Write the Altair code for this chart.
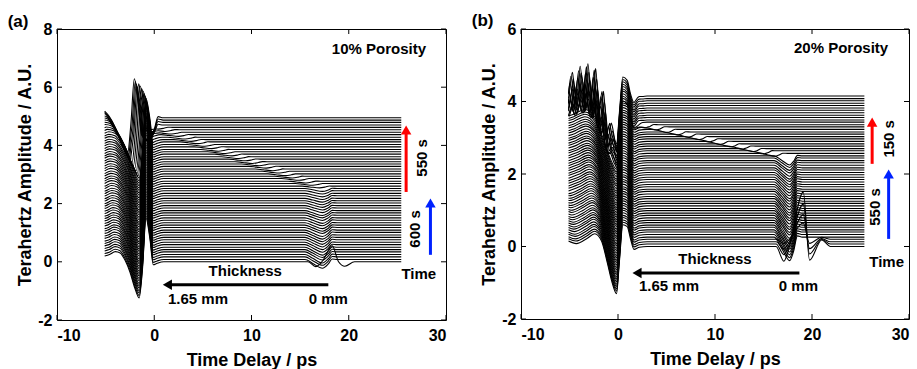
import altair as alt
import numpy as np
import pandas as pd

FONT = "Liberation Sans"

# ---------------- Panel (a): 10% porosity ----------------
A_OFFSET = [0.00, 0.08, 0.17, 0.25, 0.34, 0.42, 0.50, 0.59, 0.67, 0.76,
            0.84, 0.92, 1.01, 1.09, 1.18, 1.26, 1.34, 1.43, 1.51, 1.60,
            1.68, 1.76, 1.85, 1.93, 2.02, 2.10, 2.18, 2.27, 2.35, 2.44,
            2.52, 2.60, 2.69, 2.77, 2.86, 2.94, 3.02, 3.11, 3.19, 3.28,
            3.36, 3.44, 3.53, 3.61, 3.70, 3.78, 3.86, 3.95, 4.03, 4.12,
            4.20, 4.28, 4.37, 4.45, 4.54, 4.62, 4.70, 4.79, 4.87, 4.95]
A_STRETCH = [1.00, 1.01, 1.01, 1.02, 1.02, 1.03, 1.03, 1.04, 1.05, 1.05,
             1.06, 1.06, 1.07, 1.08, 1.08, 1.09, 1.09, 1.10, 1.10, 1.11,
             1.12, 1.12, 1.13, 1.13, 1.14, 1.15, 1.15, 1.16, 1.16, 1.17,
             1.17, 1.18, 1.19, 1.19, 1.20, 1.20, 1.21, 1.22, 1.22, 1.23,
             1.23, 1.24, 1.24, 1.25, 1.26, 1.26, 1.27, 1.27, 1.28, 1.28,
             1.29, 1.30, 1.30, 1.30, 1.30, 1.30, 1.30, 1.30, 1.30, 1.30]
A_SHIFT = [0.0] * 50 + [-0.10, -0.20, -0.30, -0.45, -0.60, -0.75, -0.90, -1.00, -1.10, -1.20]
A_ECHO_POS = ([18.3] + [17.3] * 30 +
              [17.0, 16.3, 15.6, 14.9, 14.2, 13.5, 12.9, 12.2, 11.5, 10.8,
               10.1, 9.4, 8.7, 8.0, 7.3, 6.6, 5.9, 5.2, 4.5, 3.8,
               3.2, 2.5, 1.8, 1.1, 0.4] + [-0.6] * 4)
A_ECHO_DEPTH = ([0.0] +
                [0.30, 0.29, 0.29, 0.28, 0.27, 0.27, 0.26, 0.25, 0.25, 0.24,
                 0.23, 0.23, 0.22, 0.21, 0.21, 0.20, 0.19, 0.19, 0.18, 0.17,
                 0.17, 0.16, 0.15, 0.15, 0.14, 0.13, 0.13, 0.12, 0.11, 0.10] +
                [0.06] * 25 + [0.5, 0.6, 0.7, 0.8])
A_SPIKE = [0.55] + [0.0] * 59

A_PULSE_T = [-7.0, -5.3, -4.6, -4.0, -3.5, -3.0, -2.5, -2.0, -1.55, -1.2, -0.85, -0.45, -0.1, 0.3, 1.0]
A_PULSE_V = [0.15, 0.18, 0.25, 0.35, 0.30, 0.05, -0.35, -0.90, -1.24, -0.20, 1.50, 0.80, -0.10, -0.05, 0.0]
A_TROUGH = -1.55
A_DIP_T = [-1.8, -1.0, 0.0, 0.6, 1.0, 1.5]
A_DIP_V = [0.0, -0.45, -1.0, -0.5, 0.05, 0.0]
A_SPIKE_C = 18.3
A_SPIKE_T = [-2.5, -1.7, -1.0, 0.0, 0.65, 1.3, 2.3]
A_SPIKE_V = [0.0, -0.30, 0.05, 1.0, 0.0, -0.28, 0.0]

# ---------------- Panel (b): 20% porosity ----------------
B_OFFSET = [0.00, 0.07, 0.13, 0.20, 0.26, 0.33, 0.40, 0.46, 0.53, 0.59,
            0.66, 0.72, 0.79, 0.86, 0.92, 0.99, 1.05, 1.12, 1.19, 1.25,
            1.32, 1.38, 1.45, 1.52, 1.58, 1.65, 1.71, 1.78, 1.85, 1.91,
            1.98, 2.04, 2.11, 2.17, 2.24, 2.31, 2.37, 2.44, 2.50, 2.57,
            2.64, 2.70, 2.77, 2.83, 2.90, 2.97, 3.03, 3.10, 3.16, 3.23,
            3.30, 3.36, 3.43, 3.49, 3.56, 3.62, 3.69, 3.76, 3.82, 3.89,
            3.95, 4.02, 4.08, 4.15]
B_STRETCH = ([1.00, 1.01, 1.02, 1.03, 1.04, 1.05, 1.06, 1.06, 1.07, 1.08,
              1.09, 1.10, 1.11, 1.12, 1.13, 1.14, 1.15, 1.16, 1.17, 1.17,
              1.18, 1.19, 1.20, 1.21, 1.22, 1.23, 1.24, 1.25, 1.26, 1.27,
              1.28, 1.29, 1.29, 1.30, 1.31, 1.32, 1.33, 1.34, 1.35, 1.36,
              1.37, 1.38, 1.39, 1.39, 1.40, 1.41, 1.42, 1.43, 1.44, 1.45] + [1.45] * 14)
B_SHIFT = [0.0] * 64
B_ECHO_POS = ([19.1] * 4 + [17.7] * 35 +
              [16.2, 15.1, 14.0, 12.9, 11.7, 10.6, 9.5, 8.4, 7.3, 6.2, 5.1, 4.0, 2.9, 1.75] +
              [1.3] * 11)
B_ECHO_DEPTH = ([0.0] * 4 +
                [0.65, 0.64, 0.63, 0.61, 0.60, 0.59, 0.58, 0.57, 0.56, 0.54,
                 0.53, 0.52, 0.51, 0.50, 0.48, 0.47, 0.46, 0.45, 0.44, 0.43,
                 0.41, 0.40, 0.39, 0.38, 0.37, 0.35, 0.34, 0.33, 0.32, 0.31,
                 0.30, 0.28, 0.27, 0.26, 0.25] +
                [0.08] * 14 + [0.15] * 11)
B_SPIKE = [1.5, 1.1, 0.75, 0.45] + [0.0] * 60
B_RING_AMP = [0.0] * 53 + [0.40, 0.55, 0.70, 0.80, 0.90, 1.00, 1.10, 1.20, 1.30, 1.40, 1.50]
B_RING_SHIFT = [0.0] * 53 + [0.0, 0.15, -0.10, 0.25, -0.20, 0.10, 0.30, -0.15, 0.20, -0.05, 0.10]

B_PULSE_T = [-7.0, -5.1, -4.3, -3.2, -2.4, -1.7, -1.1, -0.6, -0.15, 0.15, 0.5, 0.95, 1.3, 1.65, 2.2, 3.0]
B_PULSE_V = [0.15, 0.15, 0.08, 0.22, 0.35, 0.15, -0.45, -1.00, -1.30, -0.40, 0.60, 0.55, 0.20, -0.08, -0.02, 0.0]
B_TROUGH = -0.15
B_DIP_T = [-1.6, -0.8, 0.0, 0.4, 0.8, 1.3]
B_DIP_V = [0.0, -0.5, -1.0, -0.6, 0.05, 0.0]
B_SPIKE_C = 19.1
B_SPIKE_T = [-2.8, -2.0, -1.5, 0.0, 0.65, 1.9, 2.8]
B_SPIKE_V = [0.0, -0.27, -0.05, 1.0, -0.25, 0.12, 0.0]
RING_T = [-7.0, -6.0, -5.6, -5.2, -4.8, -4.4, -4.0, -3.6, -3.2, -2.8, -2.4, -2.0, -1.6, -1.2, -0.8, -0.4]
RING_V = [0.0, 0.0, 0.25, -0.25, 0.30, -0.30, 0.35, -0.35, 0.40, -0.40, 0.45, -0.40, 0.40, -0.30, 0.20, 0.0]

T_START = -5.1
T_END = 25.4


def build(offsets, stretch, shift, echo_pos, echo_depth, spike, pulse_t, pulse_v, trough,
          dip_t, dip_v, spike_c, spike_t, spike_v, ring_amp=None, ring_shift=None):
    rows = []
    pt = np.array(pulse_t, dtype=float)
    for i, o in enumerate(offsets):
        ptx = np.where(pt < trough, trough + (pt - trough) * stretch[i], pt) + shift[i]
        knots = set(ptx.tolist()) | {T_START, T_END}
        if echo_depth[i] > 0:
            knots |= set((np.array(dip_t) + echo_pos[i]).tolist())
        if spike[i] > 0:
            knots |= set((np.array(spike_t) + spike_c).tolist())
        ra = ring_amp[i] if ring_amp is not None else 0.0
        if ra > 0:
            knots |= set((np.array(RING_T) + ring_shift[i]).tolist())
        ks = np.array(sorted(k for k in knots if T_START <= k <= T_END))
        v = o + np.interp(ks, ptx, pulse_v)
        if echo_depth[i] > 0:
            v = v + echo_depth[i] * np.interp(ks - echo_pos[i], dip_t, dip_v)
        if spike[i] > 0:
            v = v + spike[i] * np.interp(ks - spike_c, spike_t, spike_v)
        if ra > 0:
            v = v + ra * np.interp(ks - ring_shift[i], RING_T, RING_V)
        for j, (t, y) in enumerate(zip(ks, v)):
            rows.append({"trace": i, "k": j, "t": float(t), "v": float(y)})
    return pd.DataFrame(rows)


df_a = build(A_OFFSET, A_STRETCH, A_SHIFT, A_ECHO_POS, A_ECHO_DEPTH, A_SPIKE,
             A_PULSE_T, A_PULSE_V, A_TROUGH, A_DIP_T, A_DIP_V, A_SPIKE_C, A_SPIKE_T, A_SPIKE_V)
df_b = build(B_OFFSET, B_STRETCH, B_SHIFT, B_ECHO_POS, B_ECHO_DEPTH, B_SPIKE,
             B_PULSE_T, B_PULSE_V, B_TROUGH, B_DIP_T, B_DIP_V, B_SPIKE_C, B_SPIKE_T, B_SPIKE_V,
             B_RING_AMP, B_RING_SHIFT)

X_TICKS = [-10, 0, 10, 20, 30]
A_Y_TICKS = [-2, 0, 2, 4, 6, 8]
B_Y_TICKS = [-2, 0, 2, 4, 6]

W_A, H_A = 389, 291
W_B, H_B = 388, 290


def panel(df, ydom, yticks, W, H, notes, rnotes, arrows_h, arrows_v):
    xs = alt.Scale(domain=[-10, 30], nice=False, zero=False)
    ys = alt.Scale(domain=ydom, nice=False, zero=False)
    xax = alt.Axis(values=X_TICKS, title="Time Delay / ps", labelExpr="'' + datum.value")
    yax = alt.Axis(values=yticks, title="Terahertz Amplitude / A.U.", labelExpr="'' + datum.value")
    X = alt.X("t:Q", scale=xs, axis=xax)
    Y = alt.Y("v:Q", scale=ys, axis=yax)

    lines = alt.Chart(df).mark_line(color="black", strokeWidth=1.1, interpolate="monotone").encode(
        x=X, y=Y, detail="trace:N", order="k:Q")
    xt = pd.DataFrame({"t": X_TICKS})
    yt = pd.DataFrame({"v": yticks})
    tb = alt.Chart(xt).mark_rule(color="black", strokeWidth=1).encode(
        x=X, y=alt.value(H), y2=alt.value(H - 5))
    tt = alt.Chart(xt).mark_rule(color="black", strokeWidth=1).encode(
        x=X, y=alt.value(0), y2=alt.value(5))
    tl = alt.Chart(yt).mark_rule(color="black", strokeWidth=1).encode(
        y=Y, x=alt.value(0), x2=alt.value(5))
    tr = alt.Chart(yt).mark_rule(color="black", strokeWidth=1).encode(
        y=Y, x=alt.value(W), x2=alt.value(W - 5))

    nd = pd.DataFrame(notes, columns=["t", "v", "label", "size"])
    txt = alt.Chart(nd).mark_text(font=FONT, fontWeight="bold", color="black",
                                  align="center", baseline="middle").encode(
        x=X, y=Y, text="label:N", size=alt.Size("size:Q", scale=None, legend=None))
    rd = pd.DataFrame(rnotes, columns=["t", "v", "label"])
    rtxt = alt.Chart(rd).mark_text(font=FONT, fontWeight="bold", color="black", fontSize=15,
                                   align="center", baseline="middle", angle=270).encode(
        x=X, y=Y, text="label:N")

    ah = pd.DataFrame(arrows_h, columns=["t", "t2", "v", "col"])
    shaft_h = alt.Chart(ah).mark_rule(strokeWidth=3).encode(
        x=X, x2="t2:Q", y=Y, color=alt.Color("col:N", scale=None, legend=None))
    head_h = alt.Chart(ah).mark_point(shape="triangle-left", filled=True, size=110, opacity=1).encode(
        x=X, y=Y, color=alt.Color("col:N", scale=None, legend=None))
    av = pd.DataFrame(arrows_v, columns=["t", "v", "v2", "col"])
    shaft_v = alt.Chart(av).mark_rule(strokeWidth=3).encode(
        x=X, y=Y, y2="v2:Q", color=alt.Color("col:N", scale=None, legend=None))
    head_v = alt.Chart(av).mark_point(shape="triangle-up", filled=True, size=110, opacity=1).encode(
        x=X, y=alt.Y("v2:Q", scale=ys, axis=yax), color=alt.Color("col:N", scale=None, legend=None))

    return alt.layer(lines, tb, tt, tl, tr, shaft_h, head_h, shaft_v, head_v, txt, rtxt).properties(
        width=W, height=H)


notes_a = [
    [-14.0, 8.25, "(a)", 17],
    [23.1, 7.32, "10% Porosity", 15],
    [9.36, -0.31, "Thickness", 15],
    [4.5, -1.28, "1.65 mm", 15],
    [17.9, -1.28, "0 mm", 15],
    [27.2, -0.42, "Time", 15],
]
rnotes_a = [[27.5, 3.57, "550 s"], [26.8, 1.13, "600 s"]]
arrows_h_a = [[1.35, 17.9, -0.79, "black"]]
arrows_v_a = [[25.9, 2.40, 4.53, "#ff0000"], [28.4, 0.24, 2.02, "#0022ff"]]

notes_b = [
    [-13.95, 6.23, "(b)", 17],
    [23.0, 5.48, "20% Porosity", 15],
    [10.0, -0.34, "Thickness", 15],
    [5.26, -1.09, "1.65 mm", 15],
    [18.6, -1.09, "0 mm", 15],
    [27.7, -0.43, "Time", 15],
]
rnotes_b = [[27.9, 2.97, "150 s"], [26.5, 1.09, "550 s"]]
arrows_h_b = [[1.96, 18.7, -0.73, "black"]]
arrows_v_b = [[26.2, 2.28, 3.43, "#ff0000"], [27.9, 0.21, 2.00, "#0022ff"]]

pa = panel(df_a, [-2, 8], A_Y_TICKS, W_A, H_A, notes_a, rnotes_a, arrows_h_a, arrows_v_a)
pb = panel(df_b, [-2, 6], B_Y_TICKS, W_B, H_B, notes_b, rnotes_b, arrows_h_b, arrows_v_b)

chart = alt.hconcat(pa, pb, spacing=24).properties(
    padding={"left": 7, "top": 11, "right": 0, "bottom": 0}
).configure_view(stroke="black", strokeWidth=1).configure_axis(
    labelFont=FONT, labelFontWeight="bold", labelFontSize=16, labelColor="black",
    titleFont=FONT, titleFontWeight="bold", titleFontSize=18, titleColor="black",
    ticks=False, domain=False, grid=False, labelPadding=5, titlePadding=4
).configure_axisX(labelPadding=7, titlePadding=8).configure_axisY(labelPadding=5, titlePadding=3)

chart.save("out.html", embed_options={"renderer": "svg", "actions": False})
